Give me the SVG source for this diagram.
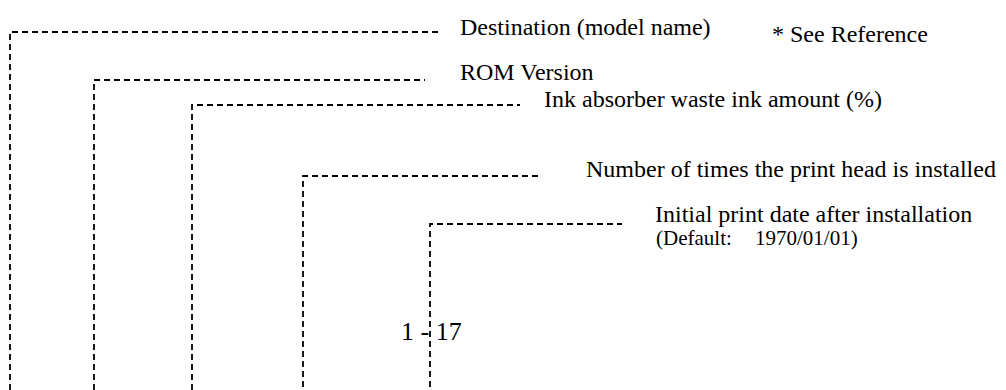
<svg xmlns="http://www.w3.org/2000/svg" width="1006" height="390" viewBox="0 0 1006 390">
<style>
.c{fill:none;stroke:#000;stroke-width:1.8;stroke-dasharray:6 4}
text{font-family:"Liberation Serif","Times New Roman",serif;fill:#000;font-size:24px}
.s{font-size:21px}
.b{font-size:26px}
</style>
<rect width="1006" height="390" fill="#fff"/>
<g id="connectors">
<path class="c" d="M10,390 V32 H441"/>
<path class="c" d="M94,390 V80 H425"/>
<path class="c" d="M192,390 V105 H520"/>
<path class="c" d="M303,387 V176 H540"/>
<path class="c" d="M430,387 V224 H622"/>
</g>
<g id="destination"><text x="460" y="35">Destination (model name)</text></g>
<g id="note"><text x="772" y="42">* See Reference</text></g>
<g id="rom"><text x="460" y="80">ROM Version</text></g>
<g id="ink"><text x="544" y="107">Ink absorber waste ink amount (%)</text></g>
<g id="head"><text x="586" y="177">Number of times the print head is installed</text></g>
<g id="date"><text x="655" y="222">Initial print date after installation</text><text class="s" x="656" y="245">(Default:</text><text class="s" x="755" y="245">1970/01/01)</text></g>
<g id="range"><text class="b" x="401" y="340">1 - 17</text></g>
</svg>
